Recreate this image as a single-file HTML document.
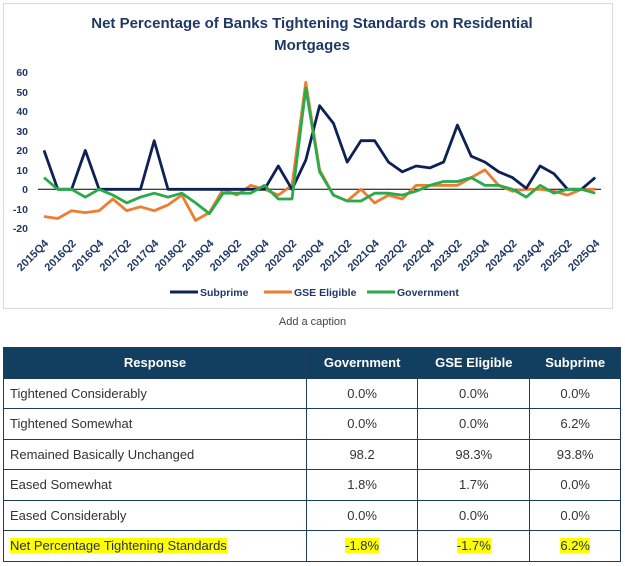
<!DOCTYPE html>
<html><head><meta charset="utf-8"><style>
body{margin:0;width:625px;height:566px;background:#fff;font-family:"Liberation Sans",sans-serif;overflow:hidden;position:relative}
.frame{position:absolute;left:3px;top:3px;width:610px;height:306px;border:1px solid #d9d9d9;box-sizing:border-box}
.cap{position:absolute;top:316px;left:0;width:625px;text-align:center;font-size:11px;color:#444}
table{position:absolute;left:3px;top:347px;width:618px;border-collapse:collapse;font-size:13px;color:#333}
td,th{border:1px solid #1d3d5a;height:29.5px;padding:0 6px}
th{background:#123f5f;color:#fff;font-weight:bold;font-size:13px}
td.n{text-align:center}
.hl{background:#ffff00;color:#1f2f55}
</style></head><body>
<div class="frame"></div>
<svg width="625" height="310" style="position:absolute;left:0;top:0" font-family="Liberation Sans, sans-serif">
<text x="312" y="28" text-anchor="middle" font-size="15" font-weight="bold" fill="#1f3864">Net Percentage of Banks Tightening Standards on Residential</text>
<text x="312" y="50" text-anchor="middle" font-size="15" font-weight="bold" fill="#1f3864">Mortgages</text>
<g font-size="10.5" font-weight="bold" fill="#1f3864" text-anchor="end">
<text x="28" y="76">60</text><text x="28" y="96">50</text><text x="28" y="115">40</text><text x="28" y="135">30</text><text x="28" y="154">20</text><text x="28" y="174">10</text><text x="28" y="193">0</text><text x="28" y="213">-10</text><text x="28" y="232">-20</text>
</g>
<line x1="38" y1="189.3" x2="601" y2="189.3" stroke="#000" stroke-width="1"/>
<g id="lbl" font-size="11" font-weight="bold" fill="#1f3864" text-anchor="end"></g>
<polyline id="g" fill="none" stroke="#ed7d31" stroke-width="2.8" stroke-linejoin="round"/>
<polyline id="s" fill="none" stroke="#0d2155" stroke-width="2.8" stroke-linejoin="round"/>
<polyline id="v" fill="none" stroke="#2aaa4a" stroke-width="2.8" stroke-linejoin="round"/>
<g font-size="10.5" font-weight="bold" fill="#1f3864">
<line x1="170" y1="292" x2="198" y2="292" stroke="#0d2155" stroke-width="3"/><text x="200" y="296">Subprime</text>
<line x1="264" y1="292" x2="292" y2="292" stroke="#ed7d31" stroke-width="3"/><text x="294" y="296">GSE Eligible</text>
<line x1="367" y1="292" x2="395" y2="292" stroke="#2aaa4a" stroke-width="3"/><text x="397" y="296">Government</text>
</g>
</svg>
<div class="cap">Add a caption</div>
<table>
<tr><th style="width:290px">Response</th><th>Government</th><th>GSE Eligible</th><th>Subprime</th></tr>
<tr><td>Tightened Considerably</td><td class="n">0.0%</td><td class="n">0.0%</td><td class="n">0.0%</td></tr>
<tr><td>Tightened Somewhat</td><td class="n">0.0%</td><td class="n">0.0%</td><td class="n">6.2%</td></tr>
<tr><td>Remained Basically Unchanged</td><td class="n">98.2</td><td class="n">98.3%</td><td class="n">93.8%</td></tr>
<tr><td>Eased Somewhat</td><td class="n">1.8%</td><td class="n">1.7%</td><td class="n">0.0%</td></tr>
<tr><td>Eased Considerably</td><td class="n">0.0%</td><td class="n">0.0%</td><td class="n">0.0%</td></tr>
<tr><td><span class="hl">Net Percentage Tightening Standards</span></td><td class="n"><span class="hl">-1.8%</span></td><td class="n"><span class="hl">-1.7%</span></td><td class="n"><span class="hl">6.2%</span></td></tr>
</table>
<script>
var S=[20,0,0,20,0,0,0,0,25,0,0,0,0,0,0,0,0,12,0,15,43,34,14,25,25,14,9,12,11,14,33,17,14,9,6,0.5,12,8,0,0,6];
var G=[-14,-15,-11,-12,-11,-5,-11,-9,-11,-8,-3,-16,-12,0,-3,2,0,-3,2,55,10,-3,-6,0,-7,-3,-5,2,2,2,2,6,10,2,-1,0,0,-1,-3,0,0];
var V=[6,0,0,-4,0,-3,-7,-4,-2,-4,-2,-7,-12.5,-2,-2,-2,2,-5,-5,52,9,-3,-6,-6,-2,-2,-3,-1,2,4,4,6,2,2,0,-4,2,-2,0,0,-2];
function px(i){return 44+i*13.78} function py(v){return 189.3-v*1.945}
function pts(a){return a.map(function(v,i){return px(i).toFixed(1)+","+py(v).toFixed(1)}).join(" ")}
document.getElementById("s").setAttribute("points",pts(S));
document.getElementById("g").setAttribute("points",pts(G));
document.getElementById("v").setAttribute("points",pts(V));
var g=document.getElementById("lbl"),h="";
for(var i=0;i<=40;i+=2){var y=2015+Math.floor((i+3)/4),q=((i+3)%4)+1;var x=px(i)+5;
h+='<text transform="translate('+x+',244) rotate(-45)">'+y+'Q'+q+'</text>';}
g.innerHTML=h;
</script>
</body></html>
